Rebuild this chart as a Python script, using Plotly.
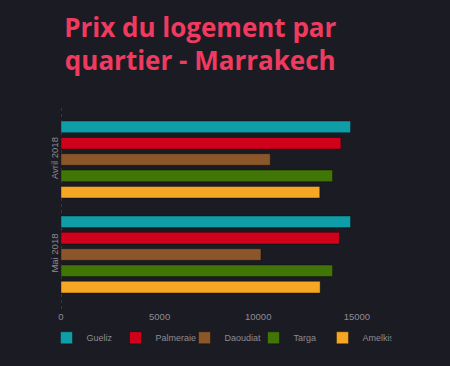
import plotly.graph_objects as go

categories = ["Avril 2018", "Mai 2018"]
series_names = ["Gueliz", "Palmeraie", "Daoudiat", "Targa", "Amelkis"]
gueliz = [14680, 14680]
palmeraie = [14190, 14120]
daoudiat = [10610, 10140]
targa = [13770, 13770]
amelkis = [13120, 13140]
series_values = [gueliz, palmeraie, daoudiat, targa, amelkis]
colors = ["#0f9ea8", "#d0021b", "#8b572a", "#417505", "#f5a623"]
x_ticks = [0, 5000, 10000, 15000]
x_tick_labels = ["0", "5000", "10000", "15000"]

bg = "#1b1b23"
txt = "#8c8c94"

fig = go.Figure()
for name, vals, col in zip(series_names, series_values, colors):
    fig.add_trace(go.Bar(
        name=name, y=categories, x=vals, orientation="h",
        marker=dict(color=col, line=dict(color="rgba(0,0,0,0.35)", width=1)),
    ))

fig.add_shape(type="line", xref="x", yref="paper", x0=0, x1=0, y0=0, y1=1,
              line=dict(color="#555560", width=1, dash="3px,3px"), layer="below")

fig.update_layout(
    width=450, height=366,
    paper_bgcolor=bg, plot_bgcolor=bg,
    margin=dict(l=61, r=34, t=105, b=57),
    barmode="group", bargap=0.14, bargroupgap=0.29,
    title=dict(text="Prix du logement par<br>quartier - Marrakech",
               x=0.445, xanchor="center", y=0.9, yanchor="middle",
               font=dict(family="Open Sans", size=26, color="#f03a5f", weight="bold")),
    font=dict(family="Liberation Sans", color=txt, size=9),
    xaxis=dict(range=[0, 18000], tickvals=x_ticks, ticktext=x_tick_labels,
               showgrid=False, zeroline=False,
               showline=False, ticks="", tickfont=dict(size=9.5, color=txt)),
    yaxis=dict(range=[1.574, -0.574], showgrid=False, zeroline=False, showline=False,
               ticks="", tickangle=-90, tickfont=dict(size=9.5, color=txt)),
    legend=dict(orientation="h", x=0.445, xanchor="center",
                y=-0.07, yanchor="top",
                font=dict(size=9, color=txt), itemwidth=30, tracegroupgap=0,
                entrywidth=24, entrywidthmode="pixels"),
    showlegend=True,
)

fig.write_html("out.html", config={"displayModeBar": False},
               post_script="document.body.style.margin='0';document.body.style.background='%s';" % bg)
